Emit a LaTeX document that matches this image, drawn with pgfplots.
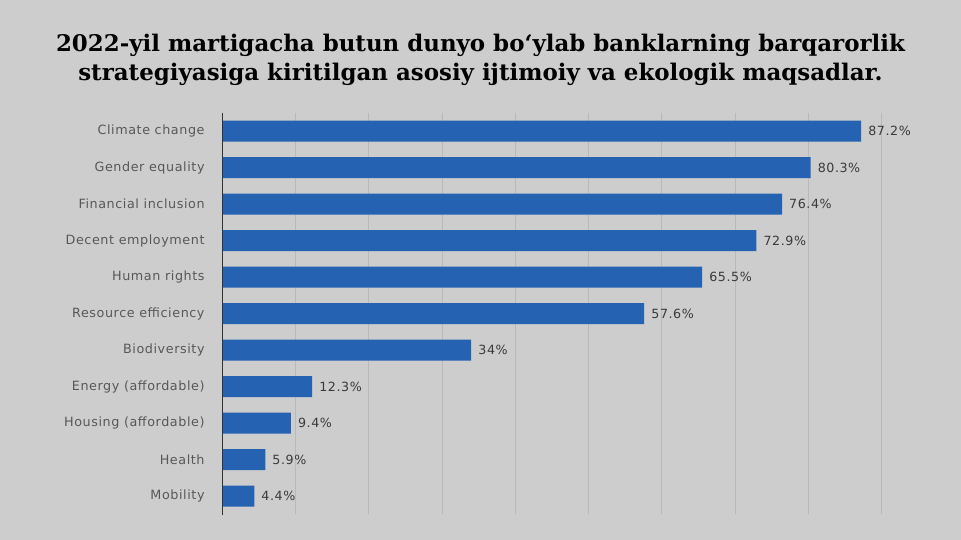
\documentclass[border=0pt]{standalone}
\usepackage{fontspec}
\setmainfont{DejaVu Sans}
\newfontfamily\titlefont{DejaVu Serif}
\newfontfamily\labfont{DejaVu Sans}[LetterSpace=4.5]
\usepackage{pgfplots}
\pgfplotsset{compat=1.18}
\definecolor{bg}{HTML}{CDCDCD}
\definecolor{barblue}{HTML}{2562B2}
\definecolor{gridc}{HTML}{B9B9B9}
\definecolor{lab}{HTML}{585858}
\definecolor{val}{HTML}{3A3A3A}
\begin{document}
\begin{tikzpicture}[x=1bp,y=1bp]
\fill[bg] (0,0) rectangle (961,540);
\node[align=center, text=black, font=\titlefont\bfseries\fontsize{23}{28.5}\selectfont] at (480.5,480)
 {2022-yil martigacha butun dunyo bo‘ylab banklarning barqarorlik\\strategiyasiga kiritilgan asosiy ijtimoiy va ekologik maqsadlar.};
\begin{axis}[
  at={(222bp,25.5bp)}, anchor=south west,
  scale only axis, width=700bp, height=401.5bp,
  xmin=0, xmax=95.5, ymin=-0.5, ymax=10.5,
  y dir=reverse,
  xbar, bar width=21bp,
  axis line style={draw=none},
  tick style={draw=none},
  xmajorgrids, grid style={gridc, line width=0.8bp},
  xtick={10,20,...,90}, xticklabels={},
  ytick={0,...,10},
  yticklabels={Climate change, Gender equality, Financial inclusion, Decent employment, Human rights, Resource efficiency, Biodiversity, Energy (affordable), Housing (affordable), Health, Mobility},
  yticklabel style={font=\labfont\fontsize{12.8}{14}\selectfont, text=lab, anchor=east, inner sep=0pt, xshift=-13bp},
  point meta=x,
  /pgf/number format/.cd, fixed, precision=1, assume math mode=true,
  /pgfplots/.cd,
  nodes near coords={\pgfmathprintnumber{\pgfplotspointmeta}\%},
  nodes near coords style={font=\labfont\fontsize{12.7}{14}\selectfont, text=val, anchor=west, inner sep=0pt, xshift=7bp},
]
\addplot[fill=barblue, draw=none] coordinates {(87.2,0) (80.3,1) (76.4,2) (72.9,3) (65.5,4) (57.6,5) (34,6) (12.3,7) (9.4,8) (5.9,9) (4.4,10)};
\draw[black!80, line width=1.3bp] (axis cs:0,-0.5) -- (axis cs:0,10.65);
\end{axis}
\end{tikzpicture}
\end{document}
